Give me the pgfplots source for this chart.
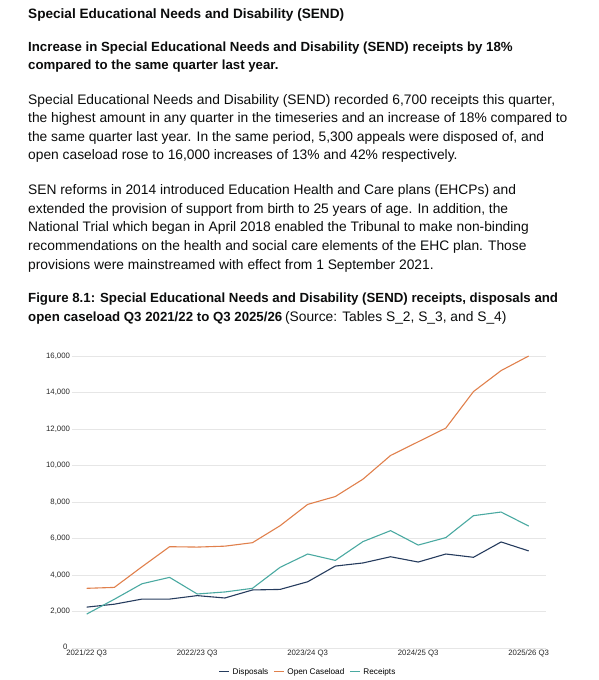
\documentclass[border=0pt]{standalone}
\usepackage{pgfplots}
\pgfplotsset{compat=1.18}
\usepackage{pgfplotstable}
\usepackage{fontspec}
\setmainfont{Liberation Sans}
\definecolor{cDisp}{HTML}{263C5E}
\definecolor{cOpen}{HTML}{E0804C}
\definecolor{cRec}{HTML}{4AA9A1}
\definecolor{cGrid}{HTML}{E6E6E6}
\definecolor{cText}{HTML}{0B0C0C}
\pgfplotstableread{
idx disp open rec
0 2240 3270 1860
1 2400 3320 2670
2 2680 4450 3520
3 2680 5550 3870
4 2870 5530 2960
5 2740 5580 3070
6 3180 5770 3270
7 3210 6700 4420
8 3630 7870 5150
9 4490 8300 4800
10 4660 9250 5830
11 5000 10550 6430
12 4710 11300 5640
13 5150 12050 6050
14 4970 14050 7250
15 5810 15200 7450
16 5320 16000 6680
}\datatable
\newcommand\body{\fontsize{13.8}{15}\selectfont}
\newcommand\bbody{\fontsize{13.25}{15}\selectfont\bfseries}
\begin{document}
\begin{tikzpicture}[x=1pt,y=1pt]
\useasboundingbox (0,0) rectangle (599,680);
\begin{scope}[every node/.style={anchor=base west, inner sep=0pt, text=cText}]
\node at (28,{680-18.5}) {\fontsize{13.6}{15}\selectfont\bfseries Special Educational Needs and Disability (SEND)};
\node at (28,{680-51.2}) {\bbody Increase in Special Educational Needs and Disability (SEND) receipts by 18\%};
\node at (28,{680-69.9}) {\bbody compared to the same quarter last year.};
\node at (28,{680-104.5}) {\body Special Educational Needs and Disability (SEND) recorded 6,700 receipts this quarter,};
\node at (28,{680-122.5}) {\body the highest amount in any quarter in the timeseries and an increase of 18\% compared to};
\node at (28,{680-141.2}) {\body the same quarter last year. In the same period, 5,300 appeals were disposed of, and};
\node at (28,{680-159.5}) {\body open caseload rose to 16,000 increases of 13\% and 42\% respectively.};
\node at (28,{680-194.5}) {\body SEN reforms in 2014 introduced Education Health and Care plans (EHCPs) and};
\node at (28,{680-213.5}) {\body extended the provision of support from birth to 25 years of age. In addition, the};
\node at (28,{680-231.8}) {\body National Trial which began in April 2018 enabled the Tribunal to make non-binding};
\node at (28,{680-250.5}) {\body recommendations on the health and social care elements of the EHC plan. Those};
\node at (28,{680-269.5}) {\body provisions were mainstreamed with effect from 1 September 2021.};
\node at (28,{680-302.2}) {\bbody Figure 8.1: Special Educational Needs and Disability (SEND) receipts, disposals and};
\node at (28,{680-321.2}) {{\bbody open caseload Q3 2021/22 to Q3 2025/26} {\body (Source: Tables S\_2, S\_3, and S\_4)}};
\end{scope}
\begin{axis}[
  at={(71.7pt,32pt)}, anchor=south west,
  scale only axis, width=474pt, height=292pt,
  xmin=-0.543, xmax=16.615, ymin=0, ymax=16000,
  scaled y ticks=false,
  axis line style={draw=none},
  major tick length=0pt,
  ymajorgrids, grid style={cGrid, line width=0.8pt},
  xtick={0,4,8,12,16},
  xticklabels={2021/22 Q3,2022/23 Q3,2023/24 Q3,2024/25 Q3,2025/26 Q3},
  ytick={0,2000,4000,6000,8000,10000,12000,14000,16000},
  yticklabels={{\raisebox{2.5pt}{0}\kern2.5pt},{2,000},{4,000},{6,000},{8,000},{10,000},{12,000},{14,000},{16,000}},
  tick label style={font=\fontsize{7.8}{8}\selectfont, text=black!85},
  yticklabel style={inner sep=1.5pt},
  xticklabel style={inner sep=2pt},
  legend style={at={(0.4985,-0.082)}, anchor=center, draw=none, fill=none,
    font=\fontsize{8.2}{9}\selectfont, legend columns=3,
    /tikz/every odd column/.append style={column sep=1pt},
    /tikz/every even column/.append style={column sep=3pt}},
  legend image code/.code={\draw[#1] (0pt,0pt) -- (10pt,0pt);},
  every axis plot/.append style={line width=1.1pt, line join=round},
]
\addplot[cDisp, mark=none] table[x=idx, y=disp] {\datatable};
\addlegendentry{Disposals}
\addplot[cOpen, mark=none] table[x=idx, y=open] {\datatable};
\addlegendentry{Open Caseload}
\addplot[cRec, mark=none] table[x=idx, y=rec] {\datatable};
\addlegendentry{Receipts}
\end{axis}
\end{tikzpicture}
\end{document}
